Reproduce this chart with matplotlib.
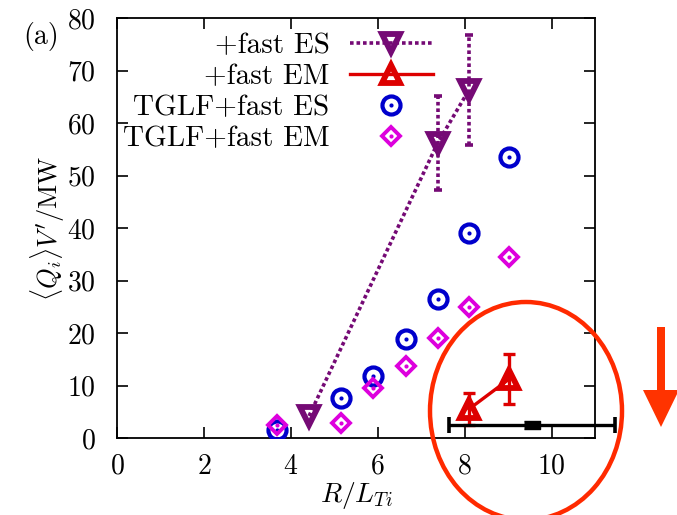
import matplotlib
matplotlib.use("Agg")
import matplotlib.pyplot as plt
from matplotlib.patches import Ellipse, FancyArrow
import numpy as np

plt.rcParams['font.family'] = ['cmr10', 'DejaVu Serif']
plt.rcParams['mathtext.fontset'] = 'cm'
plt.rcParams['axes.formatter.use_mathtext'] = True

# nonlinear runs with fast ions, electrostatic
es_x = [4.42, 7.38, 8.10]
es_y = [4.2, 56.2, 66.3]
es_err = [0.0, 9.0, 10.5]

# nonlinear runs with fast ions, electromagnetic
em_x = [8.10, 9.02]
em_y = [5.5, 11.2]
em_err = [3.0, 4.8]

# TGLF predictions
tglf_x = [3.68, 5.16, 5.90, 6.64, 7.38, 8.10, 9.02]
tglf_es = [1.5, 7.6, 11.8, 18.9, 26.5, 39.0, 53.5]
tglf_em = [2.4, 2.8, 9.6, 13.7, 19.1, 25.0, 34.4]

# experimental gradient range
exp_x = 9.55
exp_y = 2.5
exp_xerr = 1.9

purple = '#750a75'
red = '#dd0000'
blue = '#0000cc'
magenta = '#dd00dd'
dotted = (0, (1.0, 0.8))

fig = plt.figure(figsize=(6.77, 5.15), dpi=100)
ax = fig.add_axes([117/677, 1-438/515, (595-117)/677, (438-18)/515])

# electrostatic line + markers
es_line, = ax.plot(es_x, es_y, color=purple, lw=2.6, ls=dotted,
                   marker='v', ms=12.5, mfc='none', mec=purple, mew=4.2, zorder=4)
eb = ax.errorbar(es_x[1:], es_y[1:], yerr=es_err[1:], fmt='none',
                 ecolor=purple, elinewidth=2.6, capsize=3, capthick=2.6, zorder=4)
for coll in eb[2]:
    coll.set_linestyle(dotted)

# electromagnetic
em_line, = ax.plot(em_x, em_y, color=red, lw=2.4, ls='-',
                   marker='^', ms=12.5, mfc='none', mec=red, mew=4.2, zorder=5)
ax.errorbar(em_x, em_y, yerr=em_err, fmt='none', ecolor=red,
            elinewidth=2.4, capsize=4, capthick=2.4, zorder=5)

# TGLF
c_ring, = ax.plot(tglf_x, tglf_es, ls='none', marker='o', ms=13, mfc='none',
                  mec=blue, mew=3.0, zorder=3)
c_dot, = ax.plot(tglf_x, tglf_es, ls='none', marker='o', ms=3, mfc=blue,
                 mec=blue, mew=0, zorder=3)
d_ring, = ax.plot(tglf_x, tglf_em, ls='none', marker='D', ms=9.5, mfc='none',
                  mec=magenta, mew=2.8, zorder=3)
d_dot, = ax.plot(tglf_x, tglf_em, ls='none', marker='o', ms=3, mfc=magenta,
                 mec=magenta, mew=0, zorder=3)

# experimental range bar
ax.errorbar([exp_x], [exp_y], xerr=[exp_xerr], fmt='none', ecolor='black',
            elinewidth=2.4, capsize=6, capthick=2.6, zorder=6, clip_on=False)
ax.plot([exp_x], [exp_y], ls='none', color='black',
        marker=[(-1, -0.5), (1, -0.5), (1, 0.5), (-1, 0.5)], ms=12,
        zorder=7, clip_on=False)

ax.set_xlim(0, 11)
ax.set_ylim(0, 80)
ax.set_xticks(np.arange(0, 11, 2))
ax.set_yticks(np.arange(0, 81, 10))
ax.tick_params(direction='in', length=8, width=1.2, top=True, right=True,
               labelsize=20)
ax.tick_params(axis='x', pad=11)
ax.tick_params(axis='y', pad=15)
for s in ax.spines.values():
    s.set_linewidth(1.3)

ax.set_xlabel(r'$R/L_{Ti}$', fontsize=20, labelpad=0)
ax.set_ylabel(r"$\langle Q_i\rangle V'/\mathrm{MW}$", fontsize=19, labelpad=0)

leg = ax.legend([es_line, em_line, (c_ring, c_dot), (d_ring, d_dot)],
                ['+fast ES', '+fast EM', 'TGLF+fast ES', 'TGLF+fast EM'],
                markerfirst=False, frameon=False, fontsize=21,
                loc='upper right', bbox_to_anchor=(433/677, 1-33/515),
                bbox_transform=fig.transFigure, borderpad=0, borderaxespad=0,
                handlelength=2.85, handletextpad=0.7, labelspacing=0.15,
                numpoints=1)

fig.text(23/677, 1-44/515, '(a)', fontsize=20)

# highlight around the electromagnetic results
fig.add_artist(Ellipse((526/677, 1-411/515), 192/677, 218/515,
                       transform=fig.transFigure, fill=False,
                       edgecolor='#ff2a00', lw=3.2, clip_on=False))
fig.add_artist(FancyArrow(661/677, 1-327/515, 0, -100/515, width=8/677,
                          head_width=36/677, head_length=37/515,
                          length_includes_head=True, transform=fig.transFigure,
                          color='#ff3300', lw=0))

fig.savefig('out.png', dpi=100)
